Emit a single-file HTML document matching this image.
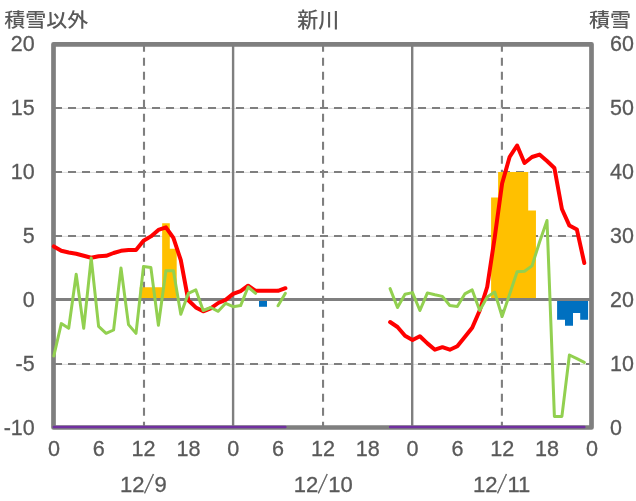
<!DOCTYPE html>
<html lang="ja"><head><meta charset="utf-8"><title>新川</title>
<style>html,body{margin:0;padding:0;background:#fff}svg{display:block}text{font-family:"Liberation Sans","Noto Sans CJK JP",sans-serif;fill:#595959;font-size:22px;stroke:#595959;stroke-width:0.3px}.j{font-size:21px;font-weight:500;stroke:none}.d{font-size:22.5px}.s{font-family:"IPAGothic","Liberation Sans",sans-serif}</style></head><body>
<svg width="636" height="501" viewBox="0 0 636 501">
<rect width="636" height="501" fill="#fff"/>
<line x1="53.5" y1="108.4" x2="591.5" y2="108.4" stroke="#d2d2d2" stroke-width="0.8"/>
<line x1="54" y1="108.0" x2="591.5" y2="108.0" stroke="#7f7f7f" stroke-width="2" stroke-dasharray="8 6"/>
<line x1="53.5" y1="172.4" x2="591.5" y2="172.4" stroke="#d2d2d2" stroke-width="0.8"/>
<line x1="54" y1="172.0" x2="591.5" y2="172.0" stroke="#7f7f7f" stroke-width="2" stroke-dasharray="8 6"/>
<line x1="53.5" y1="236.4" x2="591.5" y2="236.4" stroke="#d2d2d2" stroke-width="0.8"/>
<line x1="54" y1="236.0" x2="591.5" y2="236.0" stroke="#7f7f7f" stroke-width="2" stroke-dasharray="8 6"/>
<line x1="53.5" y1="364.4" x2="591.5" y2="364.4" stroke="#d2d2d2" stroke-width="0.8"/>
<line x1="54" y1="364.0" x2="591.5" y2="364.0" stroke="#7f7f7f" stroke-width="2" stroke-dasharray="8 6"/>
<line x1="144.00" y1="43.85" x2="144.00" y2="427.5" stroke="#7f7f7f" stroke-width="2.1" stroke-dasharray="8 6"/>
<line x1="323.05" y1="43.85" x2="323.05" y2="427.5" stroke="#7f7f7f" stroke-width="2.1" stroke-dasharray="8 6"/>
<line x1="501.90" y1="43.85" x2="501.90" y2="427.5" stroke="#7f7f7f" stroke-width="2.1" stroke-dasharray="8 6"/>
<path d="M139.73,300.00 L139.73,287.20 L147.20,287.20 L147.20,287.20 L154.68,287.20 L154.68,287.20 L162.15,287.20 L162.15,223.20 L169.80,223.20 L169.80,248.80 L176.70,248.80 L176.70,300.00 Z" fill="#ffc000"/>
<path d="M491.10,300.00 L491.10,197.60 L498.10,197.60 L498.10,172.00 L505.87,172.00 L505.87,172.00 L513.34,172.00 L513.34,172.00 L520.81,172.00 L520.81,172.00 L528.20,172.00 L528.20,210.40 L535.95,210.40 L535.95,300.00 Z" fill="#ffc000"/>
<path d="M259.00,300.00 L259.00,306.78 L267.00,306.78 L267.00,300.00 Z" fill="#0070c0"/>
<path d="M557.10,300.00 L557.10,319.71 L565.00,319.71 L565.00,325.73 L573.00,325.73 L573.00,312.93 L580.20,312.93 L580.20,319.71 L588.10,319.71 L588.10,300.00 Z" fill="#0070c0"/>
<line x1="233.1" y1="44.3" x2="233.1" y2="427.5" stroke="#7f7f7f" stroke-width="2.4"/>
<line x1="412.2" y1="44.3" x2="412.2" y2="427.5" stroke="#7f7f7f" stroke-width="2.4"/>
<line x1="53.5" y1="299.4" x2="591.5" y2="299.4" stroke="#7f7f7f" stroke-width="3"/>
<rect x="53.5" y="44.3" width="538.0" height="383.2" fill="none" stroke="#7f7f7f" stroke-width="4.7" stroke-linejoin="round"/>
<line x1="53.8" y1="426.9" x2="285.4" y2="426.9" stroke="#7030a0" stroke-width="2.5" stroke-linecap="round"/>
<line x1="390.1" y1="426.9" x2="584.3" y2="426.9" stroke="#7030a0" stroke-width="2.5" stroke-linecap="round"/>
<polyline points="53.8,246.4 61.3,250.8 68.7,252.5 76.2,253.7 83.7,255.7 91.2,257.7 98.6,256.2 106.1,255.8 113.6,253.0 121.0,250.8 128.5,250.1 136.0,250.0 143.5,240.8 150.9,236.4 158.4,229.9 165.9,227.4 173.4,237.9 180.8,260.2 188.3,300.3 195.8,307.4 203.2,311.3 210.7,308.4 218.2,303.0 225.7,299.9 233.1,293.9 240.6,291.1 248.1,285.7 255.6,290.8 263.0,290.8 270.5,290.8 278.0,290.8 285.4,288.2" fill="none" stroke="#ff0000" stroke-width="4" stroke-linejoin="round" stroke-linecap="round"/>
<polyline points="390.1,322.0 397.5,327.0 405.0,335.8 412.5,340.0 419.9,336.2 427.4,343.4 434.9,349.7 442.4,347.2 449.8,349.7 457.3,346.2 464.8,337.0 472.2,327.7 479.7,310.5 487.2,287.0 494.7,237.5 502.1,183.5 509.6,157.0 517.1,145.5 524.5,163.0 532.0,157.0 539.5,154.6 547.0,161.0 554.4,168.0 561.9,209.0 569.4,225.6 576.9,229.6 584.3,263.0" fill="none" stroke="#ff0000" stroke-width="4" stroke-linejoin="round" stroke-linecap="round"/>
<polyline points="53.8,356.0 61.3,323.6 68.7,328.3 76.2,274.3 83.7,328.3 91.2,258.0 98.6,326.4 106.1,333.3 113.6,330.0 121.0,267.9 128.5,324.6 136.0,333.4 143.5,266.4 150.9,267.6 158.4,325.2 165.9,270.8 173.4,270.8 180.8,314.2 188.3,293.4 195.8,289.8 203.2,310.5 210.7,307.5 218.2,311.3 225.7,303.3 233.1,306.7 240.6,305.6 248.1,287.0 255.6,293.3" fill="none" stroke="#92d050" stroke-width="3" stroke-linejoin="round" stroke-linecap="round"/>
<polyline points="278.0,305.8 285.4,293.3" fill="none" stroke="#92d050" stroke-width="3" stroke-linejoin="round" stroke-linecap="round"/>
<polyline points="390.1,288.6 397.5,307.5 405.0,294.2 412.5,292.6 419.9,310.5 427.4,292.9 434.9,294.8 442.4,296.4 449.8,305.5 457.3,306.5 464.8,293.9 472.2,289.9 479.7,310.5 487.2,297.0 494.7,292.0 502.1,316.5 509.6,294.2 517.1,271.7 524.5,271.3 532.0,265.9 539.5,242.2 547.0,220.5 554.4,416.4 561.9,416.4 569.4,355.0 576.9,358.7 584.3,362.4" fill="none" stroke="#92d050" stroke-width="3" stroke-linejoin="round" stroke-linecap="round"/>
<text class="j" transform="translate(4.2,27.1) scale(1,0.92)">積雪以外</text>
<text class="j" transform="translate(318.3,26.5) scale(1,1)" text-anchor="middle">新川</text>
<text class="j" transform="translate(630.9,27.1) scale(1,0.92)" text-anchor="end">積雪</text>
<text transform="translate(34.7,50.7) scale(0.955,1)" class="d" text-anchor="end">20</text>
<text transform="translate(34.7,114.7) scale(0.955,1)" class="d" text-anchor="end">15</text>
<text transform="translate(34.7,178.7) scale(0.955,1)" class="d" text-anchor="end">10</text>
<text transform="translate(34.7,242.7) scale(0.955,1)" class="d" text-anchor="end">5</text>
<text transform="translate(34.7,306.7) scale(0.955,1)" class="d" text-anchor="end">0</text>
<text transform="translate(34.7,370.7) scale(0.955,1)" class="d" text-anchor="end">-5</text>
<text transform="translate(34.7,434.7) scale(0.955,1)" class="d" text-anchor="end">-10</text>
<text transform="translate(610.1,50.7) scale(0.955,1)" class="d">60</text>
<text transform="translate(610.1,114.7) scale(0.955,1)" class="d">50</text>
<text transform="translate(610.1,178.7) scale(0.955,1)" class="d">40</text>
<text transform="translate(610.1,242.7) scale(0.955,1)" class="d">30</text>
<text transform="translate(610.1,306.7) scale(0.955,1)" class="d">20</text>
<text transform="translate(610.1,370.7) scale(0.955,1)" class="d">10</text>
<text transform="translate(610.1,434.7) scale(0.955,1)" class="d">0</text>
<text transform="translate(53.9,456) scale(0.96,1)" class="d" text-anchor="middle">0</text>
<text transform="translate(98.7,456) scale(0.96,1)" class="d" text-anchor="middle">6</text>
<text transform="translate(143.6,456) scale(0.96,1)" class="d" text-anchor="middle">12</text>
<text transform="translate(188.4,456) scale(0.96,1)" class="d" text-anchor="middle">18</text>
<text transform="translate(233.2,456) scale(0.96,1)" class="d" text-anchor="middle">0</text>
<text transform="translate(278.1,456) scale(0.96,1)" class="d" text-anchor="middle">6</text>
<text transform="translate(322.9,456) scale(0.96,1)" class="d" text-anchor="middle">12</text>
<text transform="translate(367.7,456) scale(0.96,1)" class="d" text-anchor="middle">18</text>
<text transform="translate(412.6,456) scale(0.96,1)" class="d" text-anchor="middle">0</text>
<text transform="translate(457.4,456) scale(0.96,1)" class="d" text-anchor="middle">6</text>
<text transform="translate(502.2,456) scale(0.96,1)" class="d" text-anchor="middle">12</text>
<text transform="translate(547.1,456) scale(0.96,1)" class="d" text-anchor="middle">18</text>
<text transform="translate(591.9,456) scale(0.96,1)" class="d" text-anchor="middle">0</text>
<text y="491.8"><tspan x="144.5" text-anchor="end">12</tspan><tspan class="s" x="143.5">/</tspan><tspan x="154.5">9</tspan></text>
<text y="491.8"><tspan x="318.2" text-anchor="end">12</tspan><tspan class="s" x="317.2">/</tspan><tspan x="328.2">10</tspan></text>
<text y="491.8"><tspan x="497.5" text-anchor="end">12</tspan><tspan class="s" x="496.5">/</tspan><tspan x="507.5">11</tspan></text>
</svg></body></html>
